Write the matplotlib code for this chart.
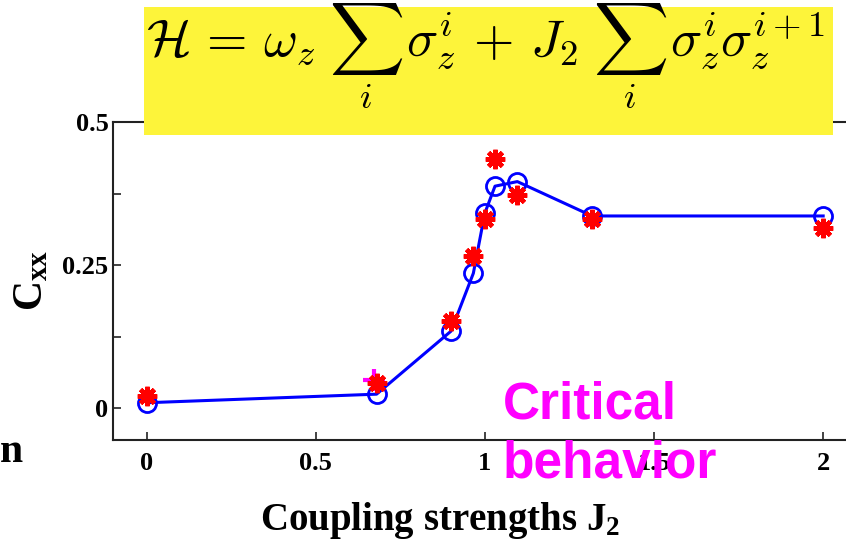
import matplotlib
matplotlib.use("Agg")
import matplotlib.pyplot as plt
from matplotlib.patches import Rectangle

# Coupling strengths J2 and the two correlation estimates
j2 = [0.0, 0.68, 0.90, 0.966, 1.0, 1.03, 1.096, 1.317, 2.0]
cxx_line = [0.01, 0.025, 0.135, 0.236, 0.341, 0.388, 0.396, 0.336, 0.336]
cxx_star = [0.021, 0.045, 0.152, 0.267, 0.330, 0.435, 0.373, 0.330, 0.315]
plus_x = [0.672]
plus_y = [0.05]

xticks = [0, 0.5, 1, 1.5, 2]
xticklabels = ["0", "0.5", "1", "1.5", "2"]
yticks = [0, 0.125, 0.25, 0.375, 0.5]
yticklabels = ["0", "", "0.25", "", "0.5"]

plt.rcParams["mathtext.fontset"] = "custom"
plt.rcParams["mathtext.rm"] = "Liberation Serif:bold"
plt.rcParams["mathtext.it"] = "Liberation Serif:bold"
plt.rcParams["mathtext.bf"] = "Liberation Serif:bold"

W, H = 846, 549
fig = plt.figure(figsize=(W / 100, H / 100), dpi=100)
fig.patch.set_facecolor("white")

ax_l, ax_r, ax_t, ax_b = 112.7, 857.0, 122.0, 440.0
ax = fig.add_axes([ax_l / W, 1 - ax_b / H, (ax_r - ax_l) / W, (ax_b - ax_t) / H])
ax.set_xlim(-0.1, 2.1)
ax.set_ylim(-0.055, 0.5)

ax.plot(j2, cxx_line, "-", color="#0000ff", lw=2.2, zorder=3)
ax.plot(j2, cxx_line, "o", ms=13, mfc="none", mec="#0000ff", mew=2.0, zorder=4)
ax.plot(plus_x, plus_y, "+", ms=16, mec="#ff00ff", mew=3, zorder=5)
ax.plot(j2, cxx_star, linestyle="none", marker=(8, 2, 0), ms=14,
        mec="#ff0000", mew=3.2, zorder=6)

serif = "Liberation Serif"
ax.set_xticks(xticks)
ax.set_xticklabels(xticklabels, fontfamily=serif, fontweight="bold", fontsize=19)
ax.set_yticks(yticks)
ax.set_yticklabels(yticklabels, fontfamily=serif, fontweight="bold", fontsize=19)
ax.tick_params(direction="in", length=6, width=1.2, colors="#222222")
ax.tick_params(axis="x", pad=9)
ax.tick_params(axis="y", pad=3)
for lab in ax.get_xticklabels() + ax.get_yticklabels():
    lab.set_color("black")
for s in ax.spines.values():
    s.set_linewidth(1.5)
    s.set_color("#222222")

fig.text(440 / W, 1 - 530 / H, r"Coupling strengths J$_{2}$", fontfamily=serif,
         fontweight="bold", fontsize=28, ha="center", va="baseline")
fig.text(30 / W, 1 - 280 / H, r"$\mathrm{C_{xx}}$", rotation=90, fontsize=30,
         ha="center", va="center")

# Hamiltonian banner
fig.patches.append(Rectangle((144 / W, 1 - 135 / H), (833 - 144) / W, (135 - 7) / H,
                             transform=fig.transFigure, facecolor="#fdf43a",
                             edgecolor="none", zorder=10))
fig.text(146 / W, 1 - 56 / H,
         r"$\mathcal{H} \,=\, \omega_z \; \sum_i \,\sigma_z^i \,+\, J_2 \; \sum_i \,\sigma_z^i\sigma_z^{i+1}$",
         math_fontfamily="cm", fontsize=37.5, ha="left", va="baseline", zorder=11)

# annotation
fig.text(503 / W, 1 - 478 / H, "Critical\nbehavior", color="#ff00ff",
         fontfamily="Liberation Sans", fontweight="bold", fontsize=37,
         ha="left", va="baseline", linespacing=1.28, zorder=12)

# fragment of neighbouring text at the left edge
fig.text(0, 1 - 462 / H, "n", fontfamily=serif, fontweight="bold",
         fontsize=30, ha="left", va="baseline")

fig.savefig("out.png", dpi=100)
